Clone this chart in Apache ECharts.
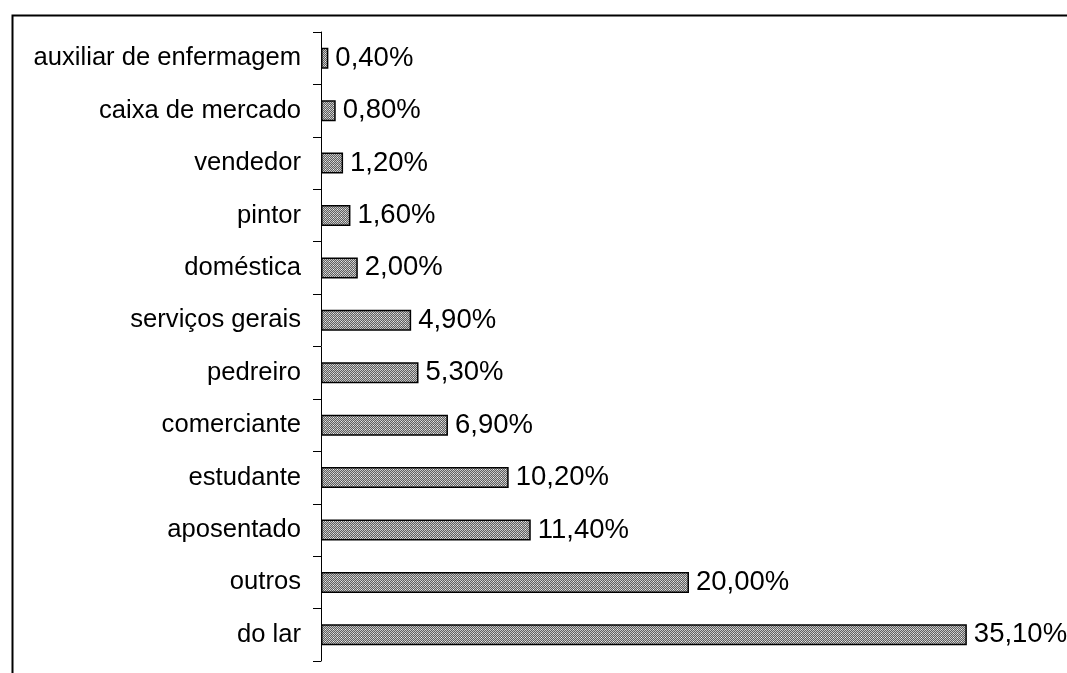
<!DOCTYPE html>
<html><head><meta charset="utf-8">
<script src="https://cdn.jsdelivr.net/npm/echarts@6/dist/echarts.min.js"></script>
<style>html,body{margin:0;padding:0;background:#fff}#c{width:1067px;height:673px}</style>
</head><body><div id="c"></div>
<script>
const categories = ['auxiliar de enfermagem','caixa de mercado','vendedor','pintor','doméstica','serviços gerais','pedreiro','comerciante','estudante','aposentado','outros','do lar'];
const values = [0.4,0.8,1.2,1.6,2.0,4.9,5.3,6.9,10.2,11.4,20.0,35.1];

const pc = document.createElement('canvas');
pc.width = 4; pc.height = 4;
const ctx = pc.getContext('2d');
ctx.fillStyle = '#606060'; ctx.fillRect(0,0,4,4);
ctx.fillStyle = '#c4c4c4';
ctx.fillRect(0,0,1,1); ctx.fillRect(2,0,1,1); ctx.fillRect(1,1,1,1); ctx.fillRect(3,1,1,1);
ctx.fillRect(0,2,1,1); ctx.fillRect(2,2,1,1); ctx.fillRect(1,3,1,1); ctx.fillRect(3,3,1,1);
ctx.fillStyle = '#f0f0f0'; ctx.fillRect(1,1,1,1);

const chart = echarts.init(document.getElementById('c'), null, {renderer:'canvas'});
chart.setOption({
  animation:false,
  backgroundColor:'#fff',
  graphic:[{type:'rect',left:10,top:13,shape:{x:0,y:0,width:1070,height:700},style:{fill:null,stroke:'#000',lineWidth:2},silent:true}],
  grid:{left:321,top:32,width:736,height:629,containLabel:false},
  xAxis:{type:'value',min:0,max:40,show:false},
  yAxis:{type:'category',data:categories,inverse:true,
    axisLine:{show:true,lineStyle:{color:'#000',width:1}},
    axisTick:{show:true,length:8,lineStyle:{color:'#000'}},
    axisLabel:{color:'#000',fontSize:25.6,fontFamily:'Liberation Sans, Arial',margin:20},
    splitLine:{show:false}},
  series:[{type:'bar',data:values,barWidth:21,
    itemStyle:{color:{image:pc,repeat:'repeat'},borderColor:'#000',borderWidth:1.5},
    label:{show:true,position:'right',distance:7,color:'#000',fontSize:27.5,fontFamily:'Liberation Sans, Arial',
      formatter:p=>p.value.toFixed(2).replace('.',',')+'%'}}]
});
</script></body></html>
